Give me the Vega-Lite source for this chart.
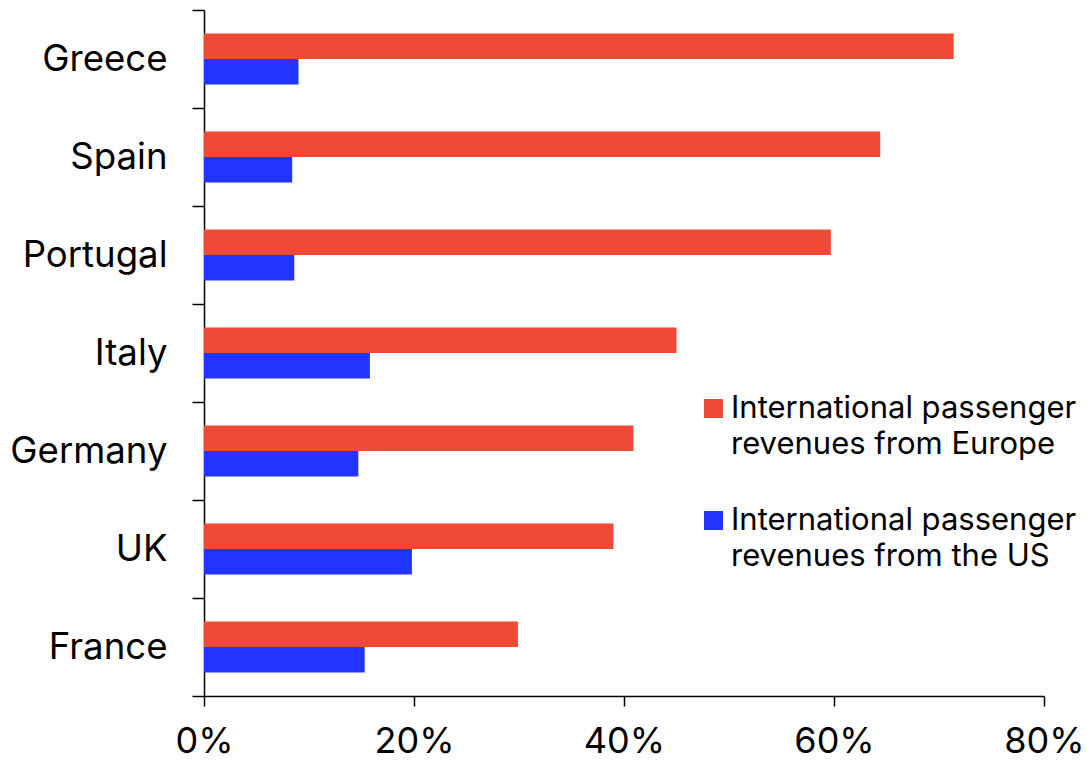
{
  "$schema": "https://vega.github.io/schema/vega-lite/v6.json",
  "width": 840,
  "height": 686,
  "autosize": {"type": "none"},
  "padding": {"left": 204, "top": 10, "right": 43, "bottom": 68},
  "background": "white",
  "config": {
    "font": "Inter",
    "view": {"stroke": null},
    "style": {"guide-label": {"lineHeight": 36}}
  },
  "data": {
    "values": [
      {"country": "Greece", "series": "Europe", "value": 71.4},
      {"country": "Greece", "series": "US", "value": 9.0},
      {"country": "Spain", "series": "Europe", "value": 64.4},
      {"country": "Spain", "series": "US", "value": 8.4},
      {"country": "Portugal", "series": "Europe", "value": 59.7},
      {"country": "Portugal", "series": "US", "value": 8.6},
      {"country": "Italy", "series": "Europe", "value": 45.0},
      {"country": "Italy", "series": "US", "value": 15.8},
      {"country": "Germany", "series": "Europe", "value": 40.9},
      {"country": "Germany", "series": "US", "value": 14.7},
      {"country": "UK", "series": "Europe", "value": 39.0},
      {"country": "UK", "series": "US", "value": 19.8},
      {"country": "France", "series": "Europe", "value": 29.9},
      {"country": "France", "series": "US", "value": 15.3}
    ]
  },
  "mark": {"type": "bar"},
  "encoding": {
    "y": {
      "field": "country",
      "type": "nominal",
      "sort": ["Greece", "Spain", "Portugal", "Italy", "Germany", "UK", "France"],
      "scale": {"paddingInner": 0, "paddingOuter": 0},
      "axis": {
        "title": null,
        "tickBand": "extent",
        "tickSize": 12,
        "tickColor": "black",
        "tickWidth": 1.5,
        "domainColor": "black",
        "domainWidth": 1.5,
        "labelFontSize": 36.6,
        "labelColor": "black",
        "labelPadding": 25,
        "labelFont": "Inter"
      }
    },
    "yOffset": {
      "field": "series",
      "type": "nominal",
      "sort": ["Europe", "US"],
      "scale": {"paddingInner": 0, "paddingOuter": 0.92}
    },
    "x": {
      "field": "value",
      "type": "quantitative",
      "scale": {"domain": [0, 80]},
      "axis": {
        "title": null,
        "values": [0, 20, 40, 60, 80],
        "labelExpr": "datum.value + '%'",
        "grid": false,
        "tickSize": 10,
        "tickColor": "black",
        "tickWidth": 1.5,
        "domainColor": "black",
        "domainWidth": 1.5,
        "labelFontSize": 36,
        "labelColor": "black",
        "labelPadding": 18,
        "labelFlush": false,
        "labelFont": "Inter"
      }
    },
    "color": {
      "field": "series",
      "type": "nominal",
      "sort": ["Europe", "US"],
      "scale": {"domain": ["Europe", "US"], "range": ["#F04A36", "#2035FF"]},
      "legend": {
        "title": null,
        "orient": "none",
        "legendX": 494,
        "legendY": 383,
        "symbolType": "square",
        "symbolSize": 361,
        "symbolStrokeWidth": 0,
        "labelExpr": "datum.label == 'Europe' ? ['International passenger', 'revenues from Europe'] : ['International passenger', 'revenues from the US']",
        "labelFontSize": 31,
        "labelColor": "black",
        "labelBaseline": "middle",
        "labelOffset": 2,
        "labelLimit": 0,
        "rowPadding": 44,
        "labelFont": "Inter"
      }
    }
  }
}
